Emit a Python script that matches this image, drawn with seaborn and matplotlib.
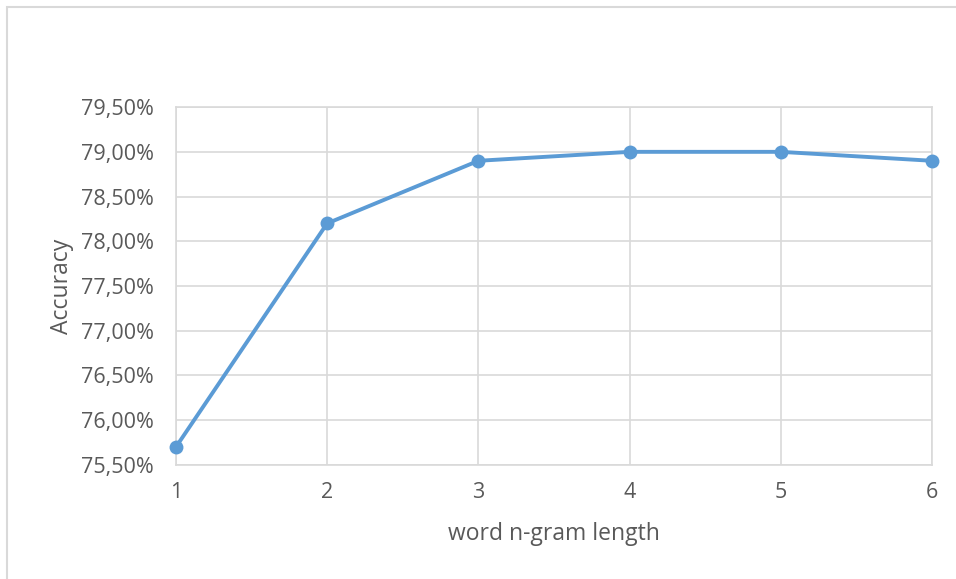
import matplotlib
matplotlib.use('Agg')
import matplotlib.pyplot as plt
import seaborn as sns
import pandas as pd
from matplotlib.ticker import FuncFormatter
from matplotlib.patches import Rectangle

# dados
ngram_length = [1, 2, 3, 4, 5, 6]
accuracy_pct = [75.7, 78.2, 78.9, 79.0, 79.0, 78.9]
y_ticks = [75.5, 76.0, 76.5, 77.0, 77.5, 78.0, 78.5, 79.0, 79.5]

df = pd.DataFrame({'n': ngram_length, 'acc': accuracy_pct})

sns.set_style('white')
plt.rcParams['font.family'] = ['Open Sans', 'DejaVu Sans']

fig = plt.figure(figsize=(9.56, 5.79), dpi=100)
ax = fig.add_axes([0.184, 0.197, 0.791, 0.618])

line_color = '#5B9BD5'
grid_color = '#D9D9D9'
text_color = '#595959'

sns.lineplot(data=df, x='n', y='acc', ax=ax, color=line_color, linewidth=2.8,
             marker='o', markersize=10, markeredgewidth=0, zorder=3, clip_on=False)

ax.set_xlim(1, 6)
ax.set_ylim(75.5, 79.5)
ax.set_xticks(ngram_length)
ax.set_yticks(y_ticks)
ax.yaxis.set_major_formatter(FuncFormatter(lambda v, p: f'{v:.2f}%'.replace('.', ',')))
ax.grid(True, color=grid_color, linewidth=1.2)
ax.set_axisbelow(True)
for s in ax.spines.values():
    s.set_color(grid_color)
    s.set_linewidth(1.2)
ax.tick_params(axis='both', length=0, labelsize=15.5, colors=text_color)
ax.tick_params(axis='y', pad=16)
ax.tick_params(axis='x', pad=12)

ax.set_xlabel('word n-gram length', fontsize=16.5, color=text_color, labelpad=14)
ax.set_ylabel('Accuracy', fontsize=16.5, color=text_color, labelpad=5)

# moldura da área do gráfico
fig.patches.append(Rectangle((7 / 956, -0.05), 1.2, (579 - 7) / 579 + 0.05,
                             transform=fig.transFigure, fill=False,
                             edgecolor='#D9D9D9', linewidth=1.5))

fig.savefig('out.png', dpi=100)
